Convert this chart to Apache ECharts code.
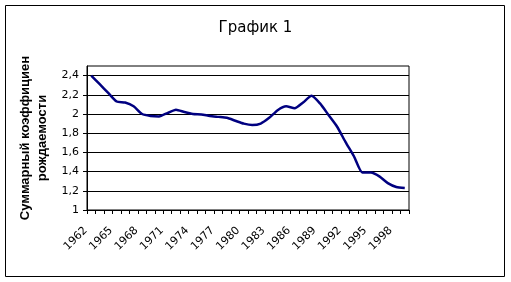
<!DOCTYPE html>
<html>
<head>
<meta charset="utf-8">
<script src="https://cdn.jsdelivr.net/npm/echarts@6/dist/echarts.min.js"></script>
<style>
html,body{margin:0;padding:0;background:#fff;}
#c{width:511px;height:282px;}
</style>
</head>
<body>
<div id="c"></div>
<script>
const titleText = 'График 1';
const yAxisTitle = 'Суммарный коэффициен\nрождаемости';
const years = ['1962','1963','1964','1965','1966','1967','1968','1969','1970','1971','1972','1973','1974','1975','1976','1977','1978','1979','1980','1981','1982','1983','1984','1985','1986','1987','1988','1989','1990','1991','1992','1993','1994','1995','1996','1997','1998','1999'];
const fertility = [2.40,2.31,2.22,2.13,2.12,2.08,2.00,1.98,1.975,2.01,2.045,2.02,2.00,1.995,1.98,1.97,1.96,1.93,1.90,1.885,1.90,1.96,2.04,2.08,2.06,2.12,2.19,2.11,1.99,1.87,1.71,1.56,1.39,1.39,1.35,1.28,1.24,1.23];
const yTicks = [1,1.2,1.4,1.6,1.8,2,2.2,2.4];

const chart = echarts.init(document.getElementById('c'));
chart.setOption({
  animation: false,
  backgroundColor: '#fff',
  title: {
    text: titleText,
    left: 'center',
    top: 16,
    textStyle: {fontFamily: 'DejaVu Sans', fontSize: 15, fontWeight: 'normal', color: '#000'}
  },
  graphic: [{
    type: 'rect',
    shape: {x: 5.5, y: 5.5, width: 499, height: 271},
    style: {fill: 'none', stroke: '#000', lineWidth: 1},
    silent: true
  }],
  grid: {
    left: 87, right: 102, top: 66, bottom: 72,
    show: true, borderColor: '#000', borderWidth: 1, backgroundColor: 'transparent'
  },
  xAxis: {
    type: 'category',
    data: years,
    boundaryGap: true,
    axisLine: {lineStyle: {color: '#000', width: 1}},
    axisTick: {show: true, interval: 0, length: 4, lineStyle: {color: '#000'}},
    axisLabel: {
      interval: 2, rotate: 45, margin: 13, padding: [0, 8, 0, 0],
      fontFamily: 'DejaVu Sans', fontSize: 11, color: '#000'
    },
    splitLine: {show: false}
  },
  yAxis: {
    type: 'value',
    min: 1, max: 2.5, interval: 0.2,
    name: yAxisTitle,
    nameLocation: 'middle',
    nameRotate: 90,
    nameGap: 36,
    nameTextStyle: {fontFamily: 'Liberation Sans', fontSize: 13, fontWeight: 'bold', color: '#000', lineHeight: 17},
    axisLine: {show: true, lineStyle: {color: '#000', width: 1}},
    axisTick: {show: true, length: 4, lineStyle: {color: '#000'}, customValues: yTicks},
    axisLabel: {
      margin: 8,
      customValues: yTicks,
      fontFamily: 'DejaVu Sans', fontSize: 11, color: '#000',
      formatter: function (v) { return String(Math.round(v * 10) / 10).replace('.', ','); }
    },
    splitLine: {show: true, lineStyle: {color: '#000', width: 1}}
  },
  series: [{
    type: 'line',
    data: fertility,
    smooth: 0.2,
    symbol: 'none',
    lineStyle: {color: '#000080', width: 2.5},
    itemStyle: {color: '#000080'}
  }]
});
</script>
</body>
</html>
